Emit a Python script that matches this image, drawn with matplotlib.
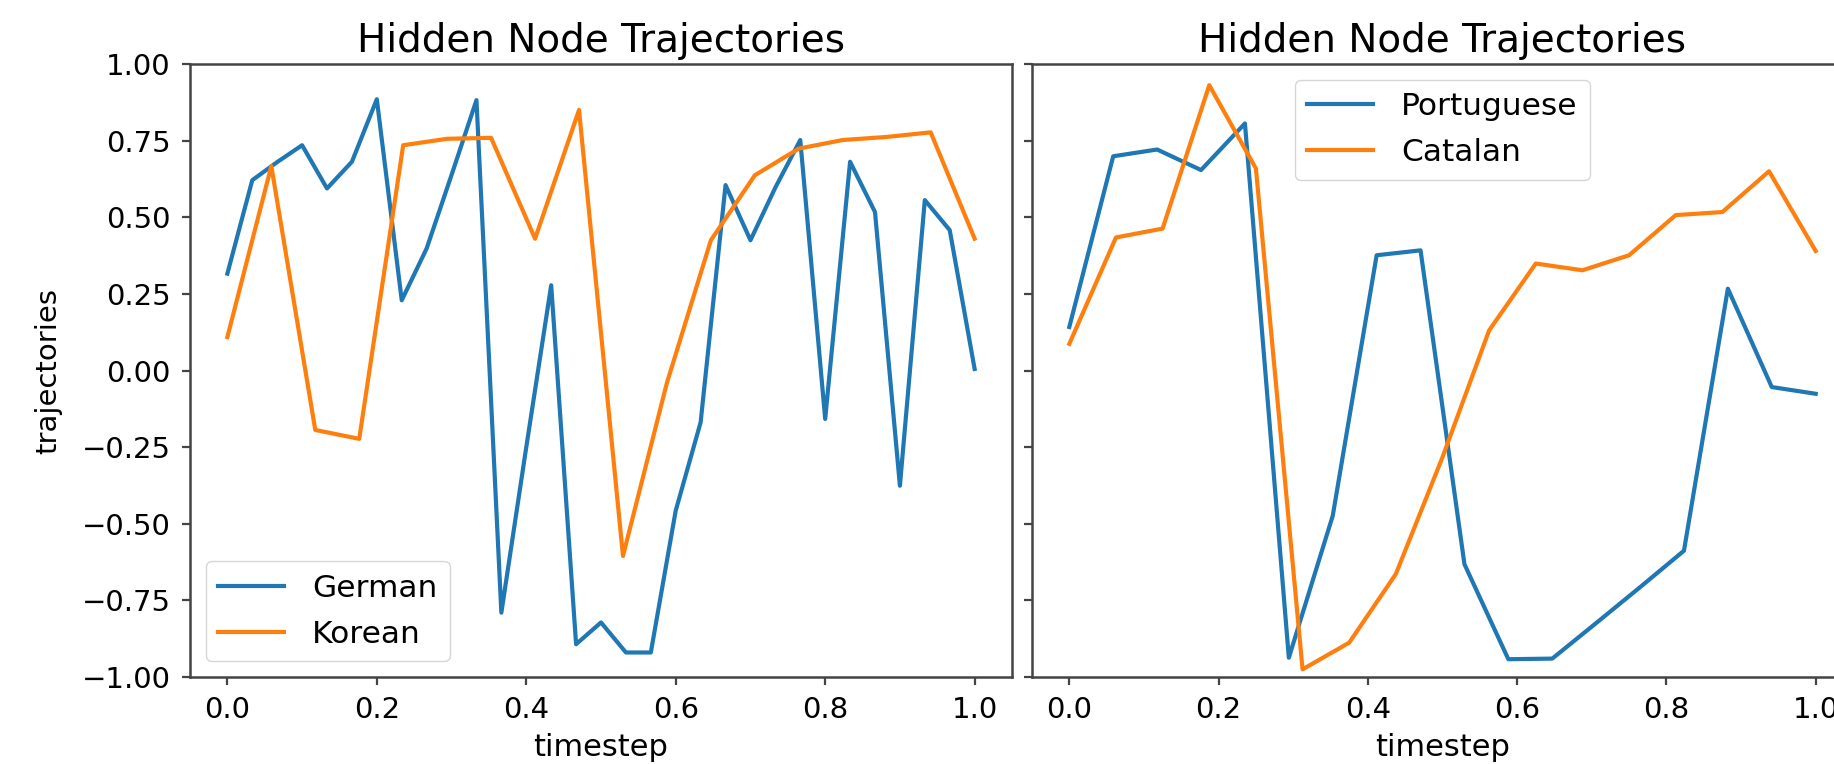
import numpy as np
import matplotlib
matplotlib.use("Agg")
import matplotlib.pyplot as plt

# ---- data ----
german = [0.316, 0.621, 0.680, 0.735, 0.594, 0.681, 0.885, 0.229, 0.398, 0.638,
          0.882, -0.790, -0.250, 0.278, -0.893, -0.822, -0.920, -0.920, -0.457,
          -0.169, 0.605, 0.425, 0.597, 0.752, -0.158, 0.681, 0.517, -0.376,
          0.556, 0.458, 0.005]
korean = [0.109, 0.667, -0.194, -0.223, 0.735, 0.756, 0.759, 0.430, 0.850,
          -0.605, -0.040, 0.425, 0.637, 0.724, 0.752, 0.762, 0.777, 0.430]
portuguese = [0.142, 0.699, 0.721, 0.654, 0.806, -0.937, -0.474, 0.376, 0.392,
              -0.632, -0.942, -0.940, -0.824, -0.707, -0.588, 0.267, -0.054, -0.076]
catalan = [0.087, 0.434, 0.463, 0.931, 0.659, -0.975, -0.888, -0.664, -0.283,
           0.131, 0.349, 0.327, 0.376, 0.507, 0.517, 0.650, 0.390]

left_labels = ["German", "Korean"]
right_labels = ["Portuguese", "Catalan"]
title = "Hidden Node Trajectories"
xlabel = "timestep"
ylabel = "trajectories"
xticks = [0.0, 0.2, 0.4, 0.6, 0.8, 1.0]
yticks = [-1.00, -0.75, -0.50, -0.25, 0.00, 0.25, 0.50, 0.75, 1.00]

W, H = 1834, 764
fig = plt.figure(figsize=(W / 100, H / 100), dpi=100)

FS = 21
LFS = 22
spine_c = "#444444"

def px(x0, y0, x1, y1):
    return [x0 / W, 1 - y1 / H, (x1 - x0) / W, (y1 - y0) / H]

ax1 = fig.add_axes(px(190, 64, 1012, 677))
ax2 = fig.add_axes(px(1032, 64, 1853, 677), sharey=ax1)

def ts(v):
    return np.linspace(0, 1, len(v))

lw = 3.0
ax1.plot(ts(german), german, color="#1f77b4", lw=lw, label=left_labels[0])
ax1.plot(ts(korean), korean, color="#ff7f0e", lw=lw, label=left_labels[1])
ax2.plot(ts(portuguese), portuguese, color="#1f77b4", lw=lw, label=right_labels[0])
ax2.plot(ts(catalan), catalan, color="#ff7f0e", lw=lw, label=right_labels[1])

for ax in (ax1, ax2):
    ax.set_xlim(-0.05, 1.05)
    ax.set_ylim(-1, 1)
    ax.set_xticks(xticks)
    ax.set_yticks(yticks)
    ax.tick_params(labelsize=FS, length=6, width=1.6, pad=8, color=spine_c)
    for s in ax.spines.values():
        s.set_linewidth(1.8)
        s.set_color(spine_c)
    ax.set_title(title, fontsize=28, pad=9)
    ax.set_xlabel(xlabel, fontsize=LFS, labelpad=6)

ax1.set_yticklabels([f"{v:.2f}".replace("-", "\u2212") for v in yticks])
ax1.set_xticklabels([f"{v:.1f}" for v in xticks])
ax2.set_xticklabels([f"{v:.1f}" for v in xticks])
plt.setp(ax2.get_yticklabels(), visible=False)
ax1.set_ylabel(ylabel, fontsize=FS, labelpad=14)

leg_kw = dict(fontsize=22.5, handlelength=2.1, handletextpad=0.9,
              labelspacing=0.55, borderaxespad=0.5)
ax1.legend(loc="lower left", **leg_kw)
ax2.legend(loc="upper center", **leg_kw)

fig.savefig("out.png", dpi=100)
